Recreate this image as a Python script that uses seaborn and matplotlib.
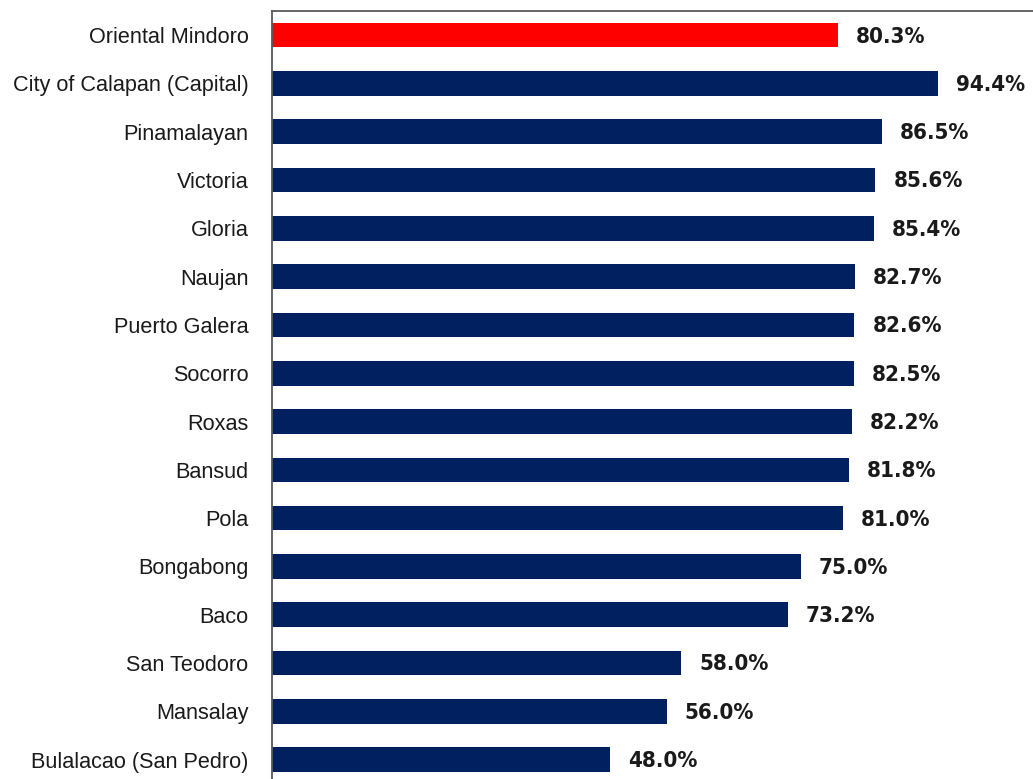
import matplotlib
matplotlib.use("Agg")
import matplotlib.pyplot as plt
import seaborn as sns
import pandas as pd

areas = [
    "Oriental Mindoro", "City of Calapan (Capital)", "Pinamalayan", "Victoria",
    "Gloria", "Naujan", "Puerto Galera", "Socorro", "Roxas", "Bansud", "Pola",
    "Bongabong", "Baco", "San Teodoro", "Mansalay", "Bulalacao (San Pedro)",
]
rates = [80.3, 94.4, 86.5, 85.6, 85.4, 82.7, 82.6, 82.5, 82.2, 81.8, 81.0,
         75.0, 73.2, 58.0, 56.0, 48.0]
bar_colors = ["#FF0000"] + ["#002060"] * (len(areas) - 1)

df = pd.DataFrame({"area": areas, "rate": rates})

sns.set_theme(style="white")
plt.rcParams["font.family"] = ["Liberation Sans", "DejaVu Sans"]

W, H = 1033, 779
fig = plt.figure(figsize=(W / 100, H / 100), dpi=100)

# axes box runs past the right and bottom edges of the picture
px_per_unit_x = 7.05
px_per_cat = 48.3
xmax = 110
ymin, ymax = -0.5, 15.9
left_px, top_px = 272, 11
w_px = xmax * px_per_unit_x
h_px = (ymax - ymin) * px_per_cat
ax = fig.add_axes([left_px / W, 1 - (top_px + h_px) / H, w_px / W, h_px / H])

sns.barplot(data=df, x="rate", y="area", hue="area", palette=bar_colors,
            saturation=1, legend=False, width=0.51, ax=ax, edgecolor="none")

ax.set_xlim(0, xmax)
ax.set_ylim(ymax, ymin)
ax.set_xlabel("")
ax.set_ylabel("")
ax.set_xticks([])
ax.tick_params(axis="y", length=0, pad=17, labelsize=15.6, labelcolor="#1a1a1a")

for s in ["left", "top"]:
    ax.spines[s].set_color("#595959")
    ax.spines[s].set_linewidth(1.3)
for s in ["right", "bottom"]:
    ax.spines[s].set_visible(False)

for i, v in enumerate(rates):
    ax.annotate(f"{v:.1f}%", xy=(v, i), xytext=(13, -1), textcoords="offset points",
                va="center", ha="left", fontsize=16, fontweight="bold",
                family="DejaVu Sans", fontstretch="condensed", color="#1a1a1a")

fig.savefig("out.png", dpi=100)
